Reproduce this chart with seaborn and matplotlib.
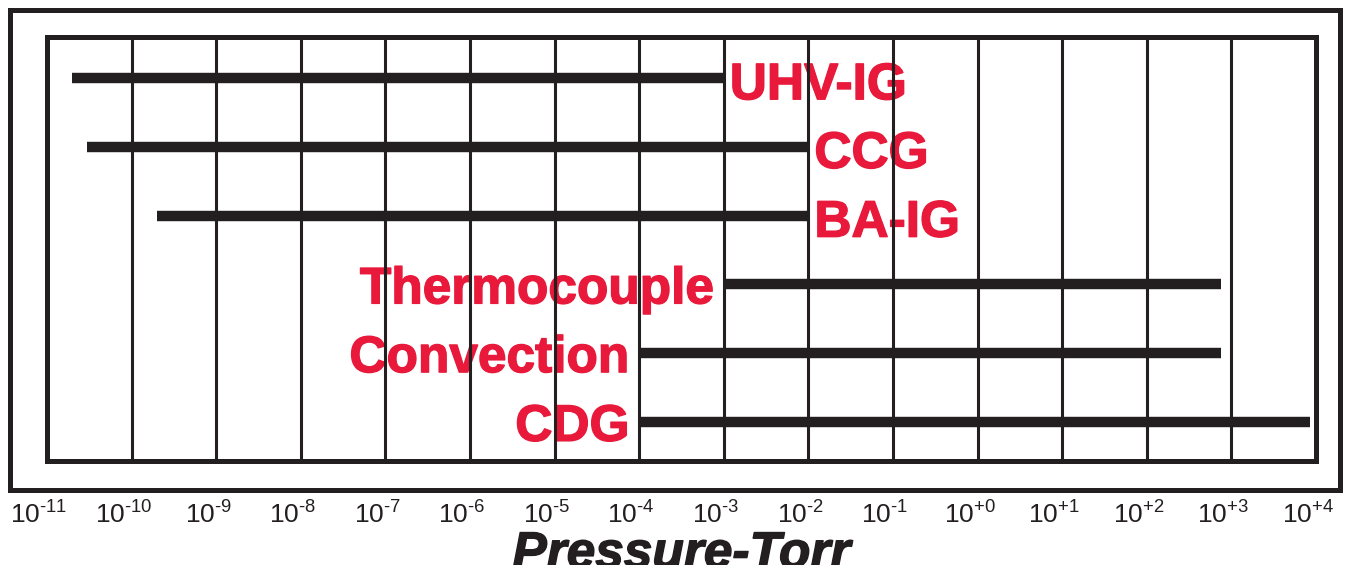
import numpy as np
import pandas as pd
import matplotlib
matplotlib.use('Agg')
import matplotlib.pyplot as plt
from matplotlib.patches import Rectangle
from matplotlib.transforms import ScaledTranslation
import matplotlib.patheffects as pe
import seaborn as sns

# gauge ranges (Torr)
gauges = ['UHV-IG', 'CCG', 'BA-IG', 'Thermocouple', 'Convection', 'CDG']
low_torr = [2e-11, 3e-11, 2e-10, 1e-3, 1e-4, 1e-4]
high_torr = [1e-3, 1e-2, 1e-2, 7.5e2, 7.5e2, 8.5e3]
label_side = ['right', 'right', 'right', 'left', 'left', 'left']

decades = list(range(-11, 5))
# hyphen (U+2010) so mathtext does not turn it into a wide minus
tick_labels = [r'$10^{%s%d}$' % ('+' if d >= 0 else '\u2010', abs(d)) for d in decades]

ink = '#231f20'
red = '#e8193a'

sns.set_theme(style='white')
plt.rcParams['font.family'] = ['Liberation Sans', 'DejaVu Sans']
plt.rcParams['mathtext.default'] = 'regular'

# long format: two points per gauge
rows = []
for i, g in enumerate(gauges):
    rows.append({'gauge': g, 'row': i, 'pressure': low_torr[i]})
    rows.append({'gauge': g, 'row': i, 'pressure': high_torr[i]})
df = pd.DataFrame(rows)

fig = plt.figure(figsize=(13.47, 5.65), dpi=100)
ax = fig.add_axes([47/1347, 1 - 461/565, 1269/1347, 424/565])

sns.lineplot(data=df, x='pressure', y='row', units='gauge', estimator=None,
             sort=False, color=ink, lw=7.5, solid_capstyle='butt',
             ax=ax, legend=False, zorder=2)

ax.set_xscale('log')
ax.set_xlim(1e-11, 1e4)
ax.set_ylim(5.57, -0.6)
ax.set_xticks([10.0**d for d in decades])
ax.set_xticklabels(tick_labels)
ax.minorticks_off()
ax.set_yticks([])
ax.set_ylabel('')
ax.tick_params(axis='x', length=0, pad=29, labelsize=19, colors=ink)
shift = ScaledTranslation(-8/100, 0, fig.dpi_scale_trans)
for lab in ax.get_xticklabels():
    lab.set_transform(lab.get_transform() + shift)
ax.xaxis.grid(True, color=ink, lw=2.2)
ax.yaxis.grid(False)
ax.set_axisbelow(False)
for s in ax.spines.values():
    s.set_visible(True)
    s.set_color(ink)
    s.set_linewidth(3.6)

thick_ink = [pe.withStroke(linewidth=1.0, foreground=ink)]
ax.set_xlabel('Pressure-Torr', fontsize=37, fontweight='bold', style='italic',
              color=ink, labelpad=1, path_effects=thick_ink)

thick_red = [pe.withStroke(linewidth=1.0, foreground=red)]
for i, g in enumerate(gauges):
    if label_side[i] == 'right':
        ax.annotate(g, (high_torr[i], i), xytext=(6, -21), textcoords='offset pixels',
                    ha='left', va='baseline', fontsize=37, fontweight='bold',
                    color=red, zorder=1, path_effects=thick_red)
    else:
        ax.annotate(g, (low_torr[i], i), xytext=(-10, -19), textcoords='offset pixels',
                    ha='right', va='baseline', fontsize=37, fontweight='bold',
                    color=red, zorder=1, path_effects=thick_red)

# outer frame around the plot
fig.patches.append(Rectangle((10/1347, 1 - 490/565), 1330/1347, 480/565,
                             transform=fig.transFigure, fill=False,
                             edgecolor=ink, lw=3.6, zorder=0))

fig.savefig('out.png', dpi=100)
